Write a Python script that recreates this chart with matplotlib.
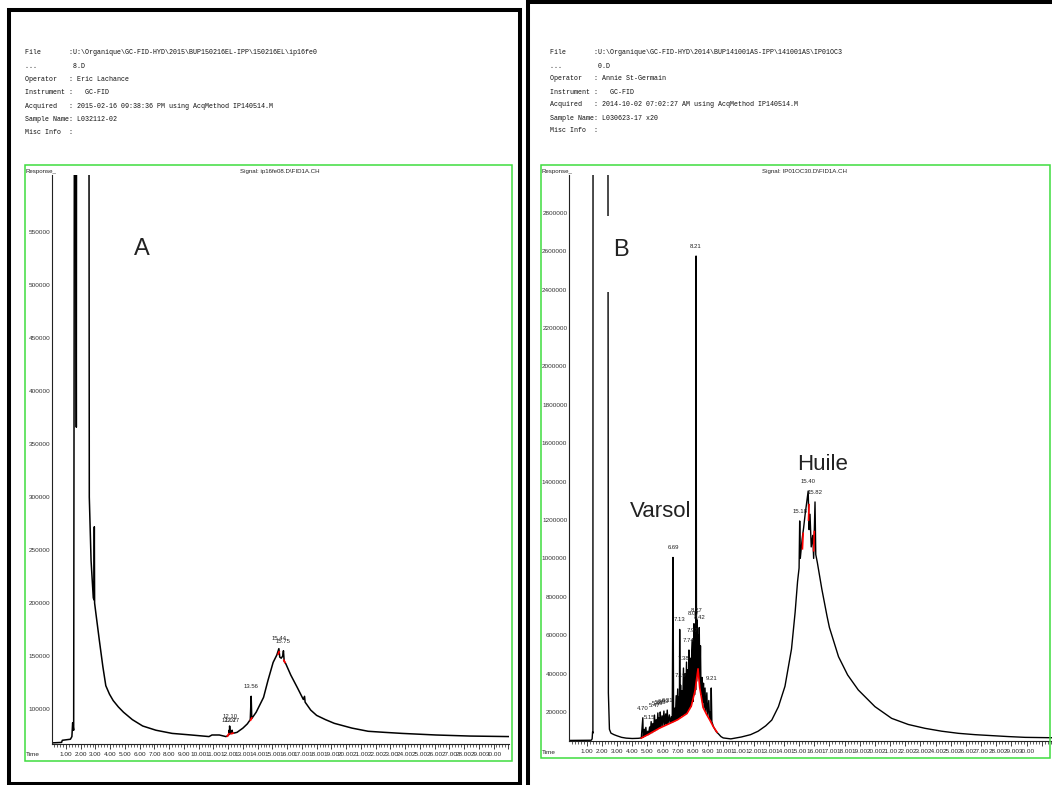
import matplotlib
matplotlib.use('Agg')
import numpy as np
import matplotlib.pyplot as plt
from matplotlib.patches import Rectangle
from matplotlib.ticker import MultipleLocator, FixedLocator, FixedFormatter

# ---------------- data ----------------
header_a = [
    "File       :U:\\Organique\\GC-FID-HYD\\2015\\BUP150216EL-IPP\\150216EL\\ip16fe0",
    "...         8.D",
    "Operator   : Eric Lachance",
    "Instrument :   GC-FID",
    "Acquired   : 2015-02-16 09:38:36 PM using AcqMethod IP140514.M",
    "Sample Name: L032112-02",
    "Misc Info  :",
]
header_b = [
    "File       :U:\\Organique\\GC-FID-HYD\\2014\\BUP141001AS-IPP\\141001AS\\IP01OC3",
    "...         0.D",
    "Operator   : Annie St-Germain",
    "Instrument :   GC-FID",
    "Acquired   : 2014-10-02 07:02:27 AM using AcqMethod IP140514.M",
    "Sample Name: L030623-17 x20",
    "Misc Info  :",
]
signal_a = "Signal: ip16fe08.D\\FID1A.CH"
signal_b = "Signal: IP01OC30.D\\FID1A.CH"

# chromatogram A (time in min, response)
a_time = [0.0, 0.7, 0.75, 1.3, 1.40, 1.45, 1.52, 1.58, 1.66, 1.70, 1.72, 2.55, 2.58,
          2.7, 2.85, 2.90, 2.92, 2.94, 3.03, 3.26, 3.5, 3.7, 3.95, 4.2, 4.55, 4.9,
          5.5, 6.2, 7.1, 8.2, 9.5, 10.3, 10.7, 10.9, 11.4, 11.85, 12.0, 12.05, 12.07,
          12.085, 12.10, 12.13, 12.2, 12.27, 12.3, 12.6, 13.0, 13.3, 13.5, 13.56, 13.6,
          13.9, 14.4, 14.7, 15.05, 15.3, 15.44, 15.5, 15.6, 15.7, 15.75, 15.8, 15.9,
          16.25, 16.7, 17.1, 17.18, 17.22, 17.6, 18.0, 18.6, 19.2, 20.4, 21.5, 22.6,
          23.8, 26.1, 28.4, 31.1]
a_signal = [68000, 68500, 70500, 71500, 74000, 87000, 80000, 800000, 800000, 366000,
            800000, 800000, 300000, 240000, 205000, 203000, 272000, 200000, 190000,
            165000, 140000, 122000, 114000, 108000, 102000, 97000, 90000, 84000, 80000,
            77000, 75500, 74500, 74000, 75500, 75500, 74000, 75000, 77000, 80000, 76000,
            84000, 77000, 77000, 80000, 77000, 78000, 82000, 86000, 90000, 112000, 91000,
            97000, 111000, 127000, 144000, 151000, 157000, 149000, 148000, 150000,
            155000, 145000, 143000, 132000, 120000, 109000, 112000, 106500, 99000,
            94000, 90000, 86500, 82000, 79000, 78000, 77000, 75500, 74500, 74000]
a_red_time = [11.95, 12.05, np.nan, 12.22, 12.32, np.nan, 13.52, 13.60, np.nan,
              15.40, 15.46, np.nan, 15.78, 15.85]
a_red_signal = [74500, 76500, np.nan, 76800, 77200, np.nan, 89500, 91500, np.nan,
                152000, 154000, np.nan, 146000, 144000]
a_peak_names = ["12.07", "12.10", "12.27", "13.56", "15.44", "15.75"]
a_peak_times = [12.07, 12.10, 12.27, 13.56, 15.44, 15.75]
a_peak_values = [80000, 84000, 80000, 112000, 157000, 155000]
a_yticks = [100000, 150000, 200000, 250000, 300000, 350000, 400000, 450000, 500000, 550000]

# chromatogram B
b_time = [-0.17, 1.30, 1.36, 1.39, 1.41, 1.42, 2.40, 2.43, 2.5, 2.6, 2.8, 3.0, 3.3, 3.6,
          4.0, 4.4, 4.6,
          4.70, 4.73, 4.80, 4.84, 4.90, 4.95, 5.03, 5.08, 5.15, 5.19, 5.25, 5.30, 5.36,
          5.41, 5.47, 5.52, 5.58, 5.63, 5.69, 5.74, 5.79, 5.82, 5.85, 5.90, 5.97, 6.02,
          6.09, 6.14, 6.21, 6.26, 6.31, 6.36, 6.45, 6.50, 6.58, 6.64, 6.69, 6.73, 6.80,
          6.84, 6.90, 6.94, 7.00, 7.04, 7.08, 7.11, 7.13, 7.16, 7.19, 7.23, 7.28, 7.32,
          7.38, 7.42, 7.48, 7.52, 7.58, 7.62, 7.67, 7.70, 7.74, 7.78, 7.84, 7.88, 7.92,
          7.97, 8.01, 8.04, 8.07, 8.11, 8.15, 8.18, 8.21, 8.24, 8.27, 8.31, 8.35, 8.38,
          8.42, 8.46, 8.50, 8.54, 8.60, 8.64, 8.70, 8.74, 8.80, 8.85, 8.92, 8.97, 9.05,
          9.10, 9.15, 9.18, 9.21, 9.25, 9.35, 9.45, 9.55, 9.7, 9.85, 10.0,
          10.5, 11.2, 11.8, 12.3, 12.8, 13.2, 13.64, 14.07, 14.5, 14.74, 14.9, 15.0,
          15.04, 15.08, 15.2, 15.3, 15.4, 15.5, 15.6, 15.66, 15.72, 15.80, 15.90, 15.96,
          16.05, 16.10, 16.2, 16.5, 16.84, 17.0, 17.6, 18.2, 18.9, 20.0, 21.1, 22.2,
          23.3, 24.4, 25.5, 26.6, 27.7, 28.8, 29.9, 31.7]
b_signal = [52000, 53000, 60000, 97000, 90000, 3500000, 3500000, 300000, 110000, 90000,
            82000, 76000, 68000, 64000, 62000, 63000, 65000,
            170000, 68000, 110000, 74000, 120000, 78000, 100000, 82000, 122000, 88000,
            150000, 92000, 140000, 98000, 184000, 103000, 160000, 108000, 195000, 114000,
            170000, 118000, 200000, 121000, 180000, 128000, 205000, 131000, 190000,
            136000, 210000, 139000, 185000, 143000, 175000, 146000, 1005000, 150000,
            220000, 155000, 285000, 160000, 320000, 165000, 280000, 170000, 630000,
            175000, 340000, 180000, 310000, 183000, 429000, 186000, 400000, 190000,
            460000, 196000, 420000, 205000, 523000, 215000, 480000, 228000, 500000,
            575000, 255000, 520000, 660000, 290000, 600000, 315000, 2575000, 360000,
            680000, 420000, 600000, 400000, 640000, 330000, 545000, 290000, 380000,
            250000, 350000, 220000, 325000, 200000, 300000, 180000, 260000, 165000,
            200000, 160000, 325000, 150000, 125000, 110000, 97000, 85000, 72000, 65000,
            60000, 70000, 82000, 100000, 128000, 158000, 228000, 334000, 528000, 720000,
            880000, 950000, 1195000, 1000000, 1100000, 1160000, 1230000, 1290000,
            1351000, 1150000, 1230000, 1060000, 1120000, 1000000, 1294000, 1020000,
            980000, 840000, 700000, 640000, 488000, 393000, 315000, 228000, 167000,
            135000, 115000, 100000, 89000, 82000, 77000, 72000, 68000, 66000]
b_red_time = [4.6, 5.17, 5.8, 6.49, 7.0, 7.61, 7.9, 8.14, 8.34, 8.45, 8.67, 8.9, 9.13,
              9.35, 9.59, np.nan, 15.22, 15.27, np.nan, 15.62, 15.66, np.nan, 15.96, 16.0]
b_red_signal = [64000, 88000, 116000, 141000, 160000, 192000, 232000, 310000, 425000,
                328000, 224000, 188000, 156000, 123000, 95000, np.nan, 1050000, 1130000,
                np.nan, 1200000, 1280000, np.nan, 1040000, 1140000]
b_peak_names = ["4.70", "5.15", "5.47", "5.69", "5.85", "6.09", "6.31", "6.69", "7.13",
                "7.19", "7.38", "7.74", "7.97", "8.07", "8.21", "8.27", "8.42", "9.21",
                "15.18", "15.40", "15.82"]
b_peak_times = [4.70, 5.15, 5.47, 5.69, 5.85, 6.09, 6.31, 6.69, 7.13, 7.19, 7.38, 7.74,
                7.97, 8.07, 8.21, 8.27, 8.42, 9.21, 15.04, 15.6, 16.05]
b_peak_values = [170000, 122000, 184000, 195000, 200000, 205000, 210000, 1005000, 630000,
                 340000, 429000, 523000, 575000, 660000, 2575000, 680000, 640000, 325000,
                 1195000, 1351000, 1294000]
b_yticks = [200000, 400000, 600000, 800000, 1000000, 1200000, 1400000, 1600000, 1800000,
            2000000, 2200000, 2400000, 2600000, 2800000]

x_ticks = list(range(1, 32))
x_tick_labels = ["%d.00" % v for v in range(1, 31)] + [""]

# ---------------- figure ----------------
W, H = 1052, 785
fig = plt.figure(figsize=(W / 100, H / 100), dpi=100)
fig.patch.set_facecolor('white')
NARROW = ['Liberation Sans Narrow', 'Liberation Sans', 'DejaVu Sans']
MONO = ['Liberation Mono', 'DejaVu Sans Mono']
SANS = ['Liberation Sans', 'DejaVu Sans']
plt.rcParams['font.family'] = NARROW


def fx(x):
    return x / W


def fy(y):
    return 1 - y / H


def rect(x0, y0, x1, y1, **kw):
    fig.add_artist(Rectangle((fx(x0), fy(y1)), fx(x1) - fx(x0), fy(y0) - fy(y1),
                             transform=fig.transFigure, fill=False, **kw))


def style_axes(ax, yticks):
    for s in ('top', 'right'):
        ax.spines[s].set_visible(False)
    for s in ('left', 'bottom'):
        ax.spines[s].set_color('#222222')
        ax.spines[s].set_linewidth(0.8)
    ax.xaxis.set_major_locator(FixedLocator(x_ticks))
    ax.xaxis.set_major_formatter(FixedFormatter(x_tick_labels))
    ax.xaxis.set_minor_locator(MultipleLocator(0.2))
    ax.set_yticks(yticks)
    ax.set_yticklabels([str(v) for v in yticks])
    ax.tick_params(axis='x', which='major', direction='out', length=3.5, width=0.6,
                   labelsize=4.6, pad=2.5, colors='#222222')
    ax.tick_params(axis='x', which='minor', direction='out', length=1.8, width=0.5,
                   colors='#222222')
    ax.tick_params(axis='y', which='major', length=0, labelsize=4.6, pad=1.2,
                   colors='#333333')
    ax.set_facecolor('none')


# Panel A
axA = fig.add_axes([fx(52), fy(744), fx(509) - fx(52), fy(175) - fy(744)])
axA.plot(a_time, a_signal, color='black', lw=1.1, zorder=2)
axA.plot(a_red_time, a_red_signal, color='red', lw=1.3, zorder=3)
for name, t, v in zip(a_peak_names, a_peak_times, a_peak_values):
    axA.annotate(name, (t, v), xytext=(0, 7), textcoords='offset points',
                 ha='center', va='center', fontsize=4.3, color='#222222')
axA.set_xlim(0.05, 31.05)
axA.set_ylim(67000, 604000)
style_axes(axA, a_yticks)

# Panel B
axB = fig.add_axes([fx(569), fy(741), fx(1052) - fx(569), fy(175) - fy(741)])
axB.plot(b_time, b_signal, color='black', lw=1.0, zorder=2)
axB.plot(b_red_time, b_red_signal, color='red', lw=1.2, zorder=3)
for name, t, v in zip(b_peak_names, b_peak_times, b_peak_values):
    axB.annotate(name, (t, v), xytext=(0, 7), textcoords='offset points',
                 ha='center', va='center', fontsize=4.3, color='#222222')
axB.set_xlim(-0.165, 31.67)
axB.set_ylim(49000, 2997000)
style_axes(axB, b_yticks)

# frames
green = '#3fdc3f'
rect(25, 165, 512, 761, edgecolor=green, lw=1.1)
rect(541, 165, 1050, 758, edgecolor=green, lw=1.1)
rect(9.5, 10, 520, 783.5, edgecolor='black', lw=2.9)
rect(527.5, 2, 1062, 800, edgecolor='black', lw=2.9)

# headers
for i, line in enumerate(header_a):
    fig.text(fx(25), fy(53 + i * 13.3), line, family=MONO, fontsize=4.8,
             ha='left', va='center', color='#111111')
for i, line in enumerate(header_b):
    fig.text(fx(550), fy(53 + i * 13.0), line, family=MONO, fontsize=4.8,
             ha='left', va='center', color='#111111')

fig.text(fx(280), fy(172), signal_a, ha='center', va='center', fontsize=4.4, color='#222222')
fig.text(fx(805), fy(172), signal_b, ha='center', va='center', fontsize=4.4, color='#222222')
fig.text(fx(26), fy(171), "Response_", ha='left', va='center', fontsize=4.4, color='#222222')
fig.text(fx(542), fy(171), "Response_", ha='left', va='center', fontsize=4.4, color='#222222')
fig.text(fx(26), fy(755), "Time", ha='left', va='center', fontsize=4.6, color='#222222')
fig.text(fx(542), fy(753), "Time", ha='left', va='center', fontsize=4.6, color='#222222')

# white mask behind the "B" label (gap in solvent trace)
fig.add_artist(Rectangle((fx(600), fy(292)), fx(648) - fx(600), fy(216) - fy(292),
                         transform=fig.transFigure, facecolor='white',
                         edgecolor='none', zorder=2))

fig.text(fx(142), fy(255), "A", family=SANS, fontsize=17, ha='center', va='baseline',
         color='#222222', zorder=4)
fig.text(fx(621), fy(256), "B", family=SANS, fontsize=17, ha='center', va='baseline',
         color='#222222', zorder=4)
fig.text(fx(661), fy(517), "Varsol", family=SANS, fontsize=16, ha='center',
         va='baseline', color='#222222', zorder=4)
fig.text(fx(823), fy(470), "Huile", family=SANS, fontsize=16, ha='center',
         va='baseline', color='#222222', zorder=4)

fig.savefig('out.png', dpi=100, facecolor='white')
